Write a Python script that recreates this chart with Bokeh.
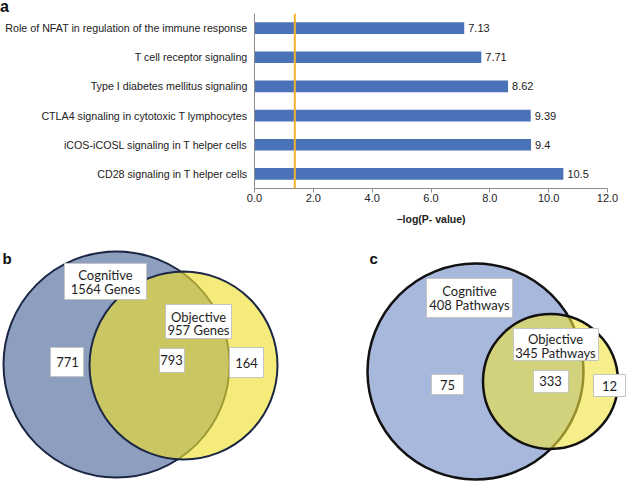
from bokeh.plotting import figure
from bokeh.models import Range1d, FactorRange, Span, FixedTicker, NumeralTickFormatter, Div
from bokeh.layouts import column, row
from bokeh.core.properties import value
from bokeh.embed import file_html
from bokeh.resources import INLINE

# ---------------- data ----------------
pathways = [
    "CD28 signaling in T helper cells",
    "iCOS-iCOSL signaling in T helper cells",
    "CTLA4 signaling in cytotoxic T lymphocytes",
    "Type I diabetes mellitus signaling",
    "T cell receptor signaling",
    "Role of NFAT in regulation of the immune response",
]
neg_log_p = [10.5, 9.4, 9.39, 8.62, 7.71, 7.13]
value_labels = ["10.5", "9.4", "9.39", "8.62", "7.71", "7.13"]
threshold = 1.37
x_ticks = [0, 2, 4, 6, 8, 10, 12]

venn_b_groups = ["Cognitive", "Objective"]
venn_b_totals = ["1564 Genes", "957 Genes"]
venn_b_counts = ["771", "793", "164"]

venn_c_groups = ["Cognitive", "Objective"]
venn_c_totals = ["408 Pathways", "345 Pathways"]
venn_c_counts = ["75", "333", "12"]

ARIAL = value("Liberation Sans")
CAL = value("Lato")

# ---------------- panel letter "a" ----------------
head = Div(text="a", width=627, height=13,
           styles={"font-family": "'Liberation Sans', Arial, sans-serif", "font-size": "16px",
                   "font-weight": "bold", "line-height": "13px", "color": "#111111",
                   "margin": "0px", "padding": "0px", "overflow": "visible"})

# ---------------- panel a: bar chart ----------------
p = figure(width=627, height=214, y_range=FactorRange(*pathways), x_range=Range1d(0, 12),
           output_backend="svg", toolbar_location=None, title=None,
           min_border_left=254, min_border_right=20, min_border_top=0, min_border_bottom=39)
p.outline_line_color = None
p.grid.visible = False
p.background_fill_color = "white"
p.border_fill_color = "white"

p.hbar(y=pathways, right=neg_log_p, height=0.4, fill_color="#4a72b9", line_color=None)
p.text(x=neg_log_p, y=pathways, text=value_labels, x_offset=4, text_baseline="middle",
       text_align="left", text_font=ARIAL, text_font_size="11px", text_color="#222222")
p.add_layout(Span(location=threshold, dimension="height", line_color="#f2b230", line_width=2))

xa = p.xaxis[0]
xa.ticker = FixedTicker(ticks=x_ticks)
xa.formatter = NumeralTickFormatter(format="0.0")
xa.axis_line_color = "#8c8c8c"
xa.major_tick_line_color = "#8c8c8c"
xa.major_tick_out = 4
xa.major_tick_in = 0
xa.minor_tick_line_color = None
xa.major_label_standoff = 1
xa.major_label_text_font = "Liberation Sans"
xa.major_label_text_font_size = "11px"
xa.major_label_text_color = "#222222"
xa.axis_label = "\u2212log(P- value)"
xa.axis_label_text_font = "Liberation Sans"
xa.axis_label_text_font_size = "10.5px"
xa.axis_label_text_font_style = "bold"
xa.axis_label_text_color = "#222222"
xa.axis_label_standoff = 8

ya = p.yaxis[0]
ya.axis_line_color = "#8c8c8c"
ya.major_tick_out = 0
ya.major_tick_in = 0
ya.major_label_standoff = 7
ya.major_label_text_font = "Liberation Sans"
ya.major_label_text_font_size = "10.7px"
ya.major_label_text_color = "#222222"


# ---------------- Venn helper ----------------
def venn(x0, x1, blue, yellow, alpha, edge, lw, circles, boxes, group_pos, total_pos,
         count_pos, groups, totals, counts, letter, letter_pos):
    v = figure(width=x1 - x0, height=254, x_range=Range1d(x0, x1),
               y_range=Range1d(481, 227), output_backend="svg", toolbar_location=None,
               x_axis_location=None, y_axis_location=None, min_border=0, title=None)
    v.outline_line_color = None
    v.grid.visible = False
    (bx, by, br), (yx, yy, yr) = circles
    v.circle(x=[bx], y=[by], radius=br, fill_color=blue, line_color=edge, line_width=lw)
    v.circle(x=[yx], y=[yy], radius=yr, fill_color=yellow, fill_alpha=alpha, line_color=edge,
             line_width=lw)
    v.quad(left=[b[0] for b in boxes], right=[b[1] for b in boxes],
           top=[b[2] for b in boxes], bottom=[b[3] for b in boxes],
           fill_color="white", line_color="#c4c4c4", line_width=1)
    common = dict(text_align="center", text_baseline="middle", text_font=CAL,
                  text_font_size="13px", text_color="#1e1e1e")
    v.text(x=[q[0] for q in group_pos], y=[q[1] for q in group_pos], text=groups, **common)
    v.text(x=[q[0] for q in total_pos], y=[q[1] for q in total_pos], text=totals, **common)
    v.text(x=[q[0] for q in count_pos], y=[q[1] for q in count_pos], text=counts, **common)
    v.text(x=[letter_pos[0]], y=[letter_pos[1]], text=[letter], text_align="left",
           text_baseline="alphabetic", text_font=ARIAL, text_font_size="15px",
           text_font_style="bold", text_color="#111111")
    return v


vb = venn(0, 320, "#8e9ebf", "#eee02c", 0.63, "#1b2743", 2,
          [(116, 364, 113), (183, 365, 94)],
          [(64, 146, 263, 299), (165, 231, 304, 338), (50, 83, 347, 376),
           (159, 184, 348, 372), (229, 263, 347, 377)],
          [(105, 274), (198, 316)], [(105, 288), (198, 329)],
          [(67, 361), (171, 359), (246, 362)],
          venn_b_groups, venn_b_totals, venn_b_counts, "b", (2, 258))

vc = venn(320, 627, "#a8b8dc", "#eee33c", 0.6, "#111111", 2.5,
          [(475, 371, 108), (550, 381, 67.5)],
          [(426, 512, 278, 317), (513, 598, 328, 360), (431, 463, 374, 394),
           (533, 568, 370, 392), (593, 625, 374, 396)],
          [(469, 290), (555, 338)], [(469, 304), (555, 352)],
          [(447, 384), (550, 380), (609, 385)],
          venn_c_groups, venn_c_totals, venn_c_counts, "c", (369, 258))

layout = column(head, p, row(vb, vc))
open("out.html", "w").write(file_html(layout, INLINE))
